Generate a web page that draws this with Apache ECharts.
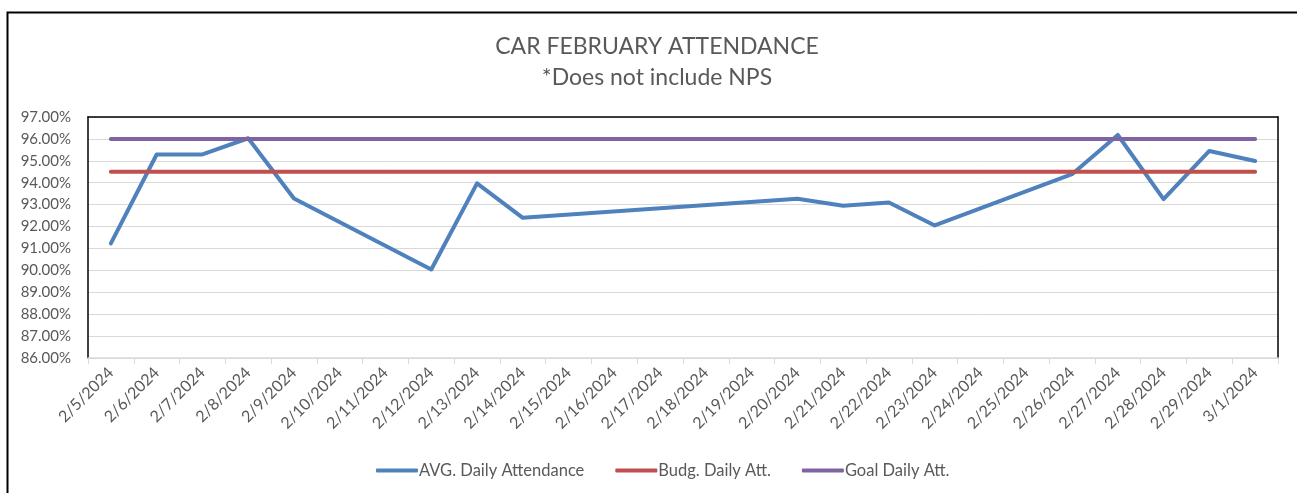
<!DOCTYPE html>
<html>
<head>
<meta charset="UTF-8">
<title>CAR FEBRUARY ATTENDANCE</title>
<style>
  html, body { margin: 0; padding: 0; background: #fff; }
  #chart { width: 1297px; height: 493px; }
</style>
</head>
<body>
<div id="chart"></div>
<script src="https://cdn.jsdelivr.net/npm/echarts@6/dist/echarts.min.js"></script>
<script>
// dates on the x axis
var days = ['2/5/2024', '2/6/2024', '2/7/2024', '2/8/2024', '2/9/2024', '2/10/2024', '2/11/2024',
  '2/12/2024', '2/13/2024', '2/14/2024', '2/15/2024', '2/16/2024', '2/17/2024', '2/18/2024',
  '2/19/2024', '2/20/2024', '2/21/2024', '2/22/2024', '2/23/2024', '2/24/2024', '2/25/2024',
  '2/26/2024', '2/27/2024', '2/28/2024', '2/29/2024', '3/1/2024'];

// percent values, null = no school day (line is joined across)
var avgDaily = [91.23, 95.29, 95.29, 96.03, 93.28, null, null,
  90.04, 93.97, 92.40, null, null, null, null,
  null, 93.27, 92.95, 93.10, 92.05, null, null,
  94.39, 96.18, 93.25, 95.45, 94.99];
var budgDaily = [94.5, 94.5, 94.5, 94.5, 94.5, 94.5, 94.5, 94.5, 94.5, 94.5, 94.5, 94.5, 94.5,
  94.5, 94.5, 94.5, 94.5, 94.5, 94.5, 94.5, 94.5, 94.5, 94.5, 94.5, 94.5, 94.5];
var goalDaily = [96, 96, 96, 96, 96, 96, 96, 96, 96, 96, 96, 96, 96,
  96, 96, 96, 96, 96, 96, 96, 96, 96, 96, 96, 96, 96];

var textColor = '#595959';
var fontName = 'Lato, "Open Sans", sans-serif';

var chart = echarts.init(document.getElementById('chart'));

chart.setOption({
  animation: false,
  backgroundColor: '#fff',
  textStyle: { fontFamily: fontName },
  graphic: [{
    type: 'rect',
    left: 5, top: 10,
    shape: { width: 1400, height: 600 },
    style: { fill: 'none', stroke: '#000', lineWidth: 2 },
    silent: true
  }],
  title: {
    text: 'CAR FEBRUARY ATTENDANCE\n*Does not include NPS',
    left: 652, textAlign: 'center',
    top: 26,
    textStyle: { color: textColor, fontSize: 23, fontWeight: 'normal', fontFamily: fontName, lineHeight: 31 }
  },
  legend: {
    top: 457,
    left: 371,
    icon: 'roundRect',
    itemWidth: 42,
    itemHeight: 4,
    itemGap: 31,
    textStyle: { color: textColor, fontSize: 16.5, fontFamily: fontName, padding: [0, 0, 0, -4] },
    data: ['AVG. Daily Attendance', 'Budg. Daily Att.', 'Goal Daily Att.']
  },
  grid: { left: 88, right: 19, top: 117, bottom: 135, containLabel: false },
  xAxis: [{
    type: 'category',
    data: days,
    boundaryGap: true,
    axisLine: { show: true, lineStyle: { color: '#D9D9D9', width: 1.5 } },
    axisTick: { show: true, alignWithLabel: false, length: 6, lineStyle: { color: '#D9D9D9' } },
    axisLabel: { interval: 0, rotate: 45, margin: 12, color: textColor, fontSize: 16, fontFamily: fontName }
  }, {
    type: 'category',
    position: 'top',
    data: days,
    axisLine: { show: true, lineStyle: { color: '#000', width: 1.5 } },
    axisTick: { show: false },
    axisLabel: { show: false }
  }],
  yAxis: [{
    type: 'value',
    min: 86, max: 97, interval: 1,
    axisLine: { show: true, lineStyle: { color: '#000', width: 1.5 } },
    axisTick: { show: false },
    splitLine: { show: true, lineStyle: { color: '#D9D9D9', width: 1 } },
    axisLabel: {
      margin: 17, color: textColor, fontSize: 15, fontFamily: fontName,
      formatter: function (v) { return v.toFixed(2) + '%'; }
    }
  }, {
    type: 'value',
    position: 'right',
    min: 86, max: 97, interval: 1,
    axisLine: { show: true, lineStyle: { color: '#000', width: 1.5 } },
    axisTick: { show: false },
    splitLine: { show: false },
    axisLabel: { show: false }
  }],
  series: [{
    name: 'AVG. Daily Attendance',
    type: 'line',
    data: avgDaily,
    connectNulls: true,
    showSymbol: false,
    symbol: 'none',
    color: '#4F81BD',
    lineStyle: { width: 4, color: '#4F81BD', cap: 'round', join: 'round' }
  }, {
    name: 'Budg. Daily Att.',
    type: 'line',
    data: budgDaily,
    showSymbol: false,
    symbol: 'none',
    color: '#C0504D',
    lineStyle: { width: 4, color: '#C0504D', cap: 'round' }
  }, {
    name: 'Goal Daily Att.',
    type: 'line',
    data: goalDaily,
    showSymbol: false,
    symbol: 'none',
    color: '#8064A2',
    lineStyle: { width: 4, color: '#8064A2', cap: 'round' }
  }]
});
</script>
</body>
</html>
